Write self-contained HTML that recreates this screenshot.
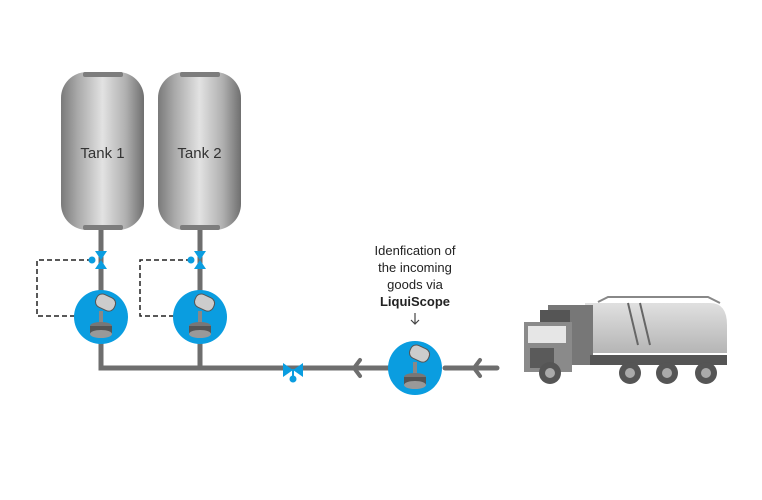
<!DOCTYPE html>
<html><head><style>
body{margin:0;width:762px;height:500px;background:#fff;overflow:hidden;position:relative;font-family:"Liberation Sans",sans-serif}
.tank{position:absolute;top:72px;width:83px;height:158px;border-radius:26px;background:linear-gradient(90deg,#7a7a7a 0%,#a9a9a9 20%,#e2e2e2 50%,#b0b0b0 78%,#6f6f6f 100%);}
.tank span{position:absolute;top:73px;width:100%;text-align:center;font-size:15px;color:#333}
.cap{position:absolute;left:22px;width:40px;height:5px;background:#7d7d7d;border-radius:2px}
</style></head><body>
<div class="tank" style="left:61px"><div class="cap" style="top:0"></div><span>Tank 1</span><div class="cap" style="bottom:0"></div></div>
<div class="tank" style="left:158px"><div class="cap" style="top:0"></div><span>Tank 2</span><div class="cap" style="bottom:0"></div></div>
<svg width="762" height="500" style="position:absolute;left:0;top:0">
<defs>
<g id="s">
<rect x="-12" y="-22" width="20" height="14" rx="6" fill="#ccc" stroke="#555" transform="rotate(25)"/>
<rect x="-2" y="-6" width="4" height="12" fill="#888"/>
<ellipse cx="0" cy="9" rx="11" ry="4" fill="#777"/>
<rect x="-11" y="9" width="22" height="8" fill="#555"/>
<ellipse cx="0" cy="17" rx="11" ry="4" fill="#999"/>
</g>
</defs>
<g stroke="#6e6e6e" stroke-width="5" fill="none" stroke-linecap="round">
<path d="M101 230V368H390" stroke-linecap="butt"/>
<path d="M200 230V368" stroke-linecap="butt"/>
<path d="M445 368H497"/>
<path d="M360 360l-6 8 6 8M480 360l-6 8 6 8" stroke-width="4"/>
</g>
<g stroke="#222" stroke-width="1.5" stroke-dasharray="5,3" fill="none">
<path d="M92 260H37V316H75"/>
<path d="M191 260H140V316H174"/>
</g>
<g fill="#0a9de0">
<path d="M95 251h12l-6 9zM95 269h12l-6-9z"/><circle cx="92" cy="260" r="3.5"/>
<path d="M194 251h12l-6 9zM194 269h12l-6-9z"/><circle cx="191" cy="260" r="3.5"/>
<path d="M283 363v14l10-7zM303 363v14l-10-7z"/><circle cx="293" cy="379" r="3.5"/><rect x="292" y="369" width="2" height="8"/>
<circle cx="101" cy="317" r="27"/><circle cx="200" cy="317" r="27"/><circle cx="415" cy="368" r="27"/>
</g>
<use href="#s" x="101" y="317"/><use href="#s" x="200" y="317"/><use href="#s" x="415" y="368"/>
<text font-size="13" fill="#222" text-anchor="middle"><tspan x="415" y="255">Idenfication of</tspan><tspan x="415" y="272">the incoming</tspan><tspan x="415" y="289">goods via</tspan><tspan x="415" y="306" font-weight="bold">LiquiScope</tspan></text>
<path d="M415 313v11M411 320l4 4 4-4" stroke="#444" fill="none" stroke-width="1.2"/>
<!-- truck -->
<defs><linearGradient id="tg" x1="0" y1="0" x2="0" y2="1"><stop offset="0" stop-color="#e0e0e0"/><stop offset="1" stop-color="#b5b5b5"/></linearGradient></defs>
<path d="M585 303h125q17 0 17 22v28H585z" fill="url(#tg)"/>
<path d="M598 302l10-5h100l12 6" stroke="#888" fill="none" stroke-width="2"/>
<path d="M628 303l10 42M640 303l10 42" stroke="#666" stroke-width="2"/>
<path d="M548 305h45v60h-45z" fill="#777"/>
<path d="M540 310h30v14h-30z" fill="#555"/>
<path d="M524 322h48v50h-48z" fill="#8a8a8a"/>
<path d="M528 326h38v17h-38z" fill="#e6e6e6"/>
<path d="M530 348h24v20h-24z" fill="#5a5a5a"/>
<rect x="590" y="355" width="137" height="10" fill="#555"/>
<g fill="#555"><circle cx="550" cy="373" r="11"/><circle cx="630" cy="373" r="11"/><circle cx="667" cy="373" r="11"/><circle cx="706" cy="373" r="11"/></g>
<g fill="#aaa"><circle cx="550" cy="373" r="5"/><circle cx="630" cy="373" r="5"/><circle cx="667" cy="373" r="5"/><circle cx="706" cy="373" r="5"/></g>
</svg>
</body></html>
